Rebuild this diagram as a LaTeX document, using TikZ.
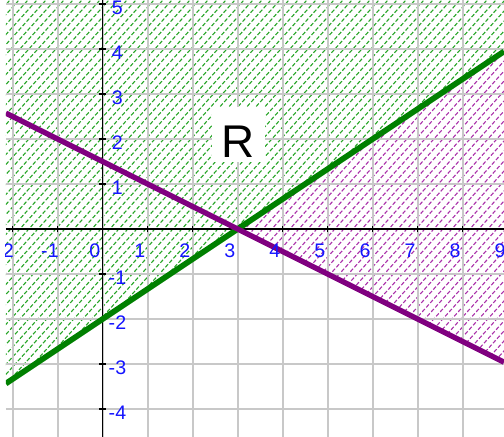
\documentclass[tikz,border=0pt]{standalone}
\usepackage{fontspec}
\setmainfont{Liberation Sans}
\definecolor{linegreen}{RGB}{0,128,0}
\definecolor{linepurple}{RGB}{128,0,128}
\definecolor{hatchgreen}{RGB}{40,165,40}
\definecolor{hatchpurple}{RGB}{170,50,170}
\definecolor{gridgray}{RGB}{200,200,200}
\definecolor{labelblue}{RGB}{20,20,255}
\begin{document}
\begin{tikzpicture}[line join=round,
		hatch/.style={line width=0.7pt, dash pattern=on 2.5pt off 1.3pt},
		gridline/.style={gridgray, line width=1.2pt},
		axisline/.style={black, line width=0.9pt},
		axislabel/.style={text=labelblue, inner sep=0pt, font=\fontsize{12.4}{13}\selectfont}]
	% Define coordinate window
	\def\xmin{-2.15} \def\xmax{8.92}
	\def\ymin{-4.62} \def\ymax{5.09}
	\useasboundingbox (-2.28,\ymin) rectangle (\xmax,\ymax);
	
	% Scope to clip everything within viewing box
	\begin{scope}
		\clip (\xmin,\ymin) rectangle (\xmax,\ymax);
		
		% Hatching above y = 2x/3 - 2
		\begin{scope}
			\clip (\xmin,{2*\xmin/3-2}) -- (\xmax,{2*\xmax/3-2}) -- (\xmax,\ymax) -- (\xmin,\ymax) -- cycle;
			\foreach \k in {0,...,110}
			\draw[hatch, hatchgreen] (-13+0.2*\k,\ymin) -- ++(48:15);
		\end{scope}
		
		% Hatching above y = -x/2 + 3/2, below y = 2x/3 - 2
		\begin{scope}
			\clip (3,0) -- (\xmax,{2*\xmax/3-2}) -- (\xmax,{-\xmax/2+1.5}) -- cycle;
			\foreach \k in {0,...,110}
			\draw[hatch, hatchpurple] (-13+0.2*\k,\ymin) -- ++(48:15);
		\end{scope}
		
		% Grid
		\foreach \x in {-2,...,8} {
			\draw[gridline] (\x,\ymin) -- (\x,\ymax);
		}
		\foreach \y in {-4,...,5} {
			\draw[gridline] (\xmin,\y) -- (\xmax,\y);
		}
		
		% Axes
		\draw[axisline] (\xmin,0) -- (\xmax,0);
		\draw[axisline] (0,\ymin) -- (0,\ymax);
		
		% Tick marks on x-axis
		\foreach \x in {-2,...,8} {
			\draw[axisline] (\x,0.07) -- (\x,-0.07);
		}
		
		% Tick marks on y-axis
		\foreach \y in {-4,...,5} {
			\draw[axisline] (0.07,\y) -- (-0.07,\y);
		}
		
		% Region label
		\node[fill=white, inner sep=0.09cm, text height=1.04cm, text depth=0pt,
		minimum width=1.16cm, anchor=base, font=\fontsize{29}{30}\selectfont]
		(R) at (3.02,1.58) {R};
		
		% Boundary lines
		% y = 2x/3 - 2
		\draw[linegreen, line width=3.6pt, domain=\xmin:\xmax] plot(\x, {2*(\x)/3 - 2});
		% y = -x/2 + 3/2
		\draw[linepurple, line width=3.4pt, domain=\xmin:\xmax] plot(\x, {-(\x)/2 + 1.5});
		
		% Axis labels
		\foreach \x in {-2,...,9} {
			\node[axislabel] (xl\x) at (\x-0.17,-0.48) {\x};
		}
		\foreach \y in {-4,-3,-2,-1,1,2,3,4,5} {
			\node[axislabel] (yl\y) at (0.33,\y-0.09) {\y};
		}
	\end{scope}
	
\end{tikzpicture}
\end{document}
